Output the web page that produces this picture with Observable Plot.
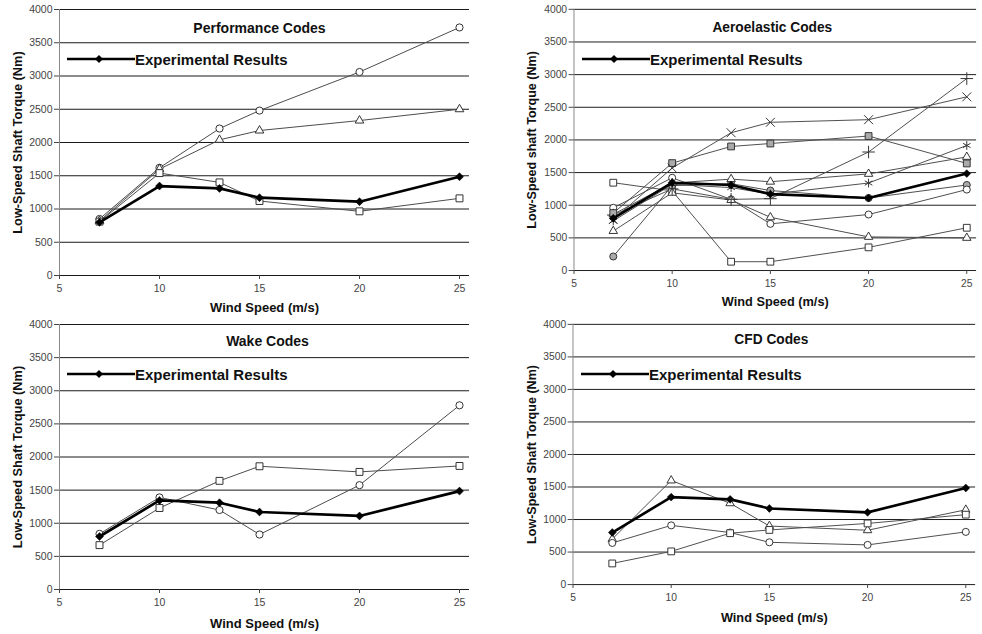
<!DOCTYPE html>
<html><head><meta charset="utf-8">
<script src="https://cdn.jsdelivr.net/npm/d3@7"></script>
<script src="https://cdn.jsdelivr.net/npm/@observablehq/plot@0.6"></script>
<style>
body{margin:0;background:#fff;overflow:hidden;font-family:"Liberation Sans",Arial,sans-serif;}
#wrap{position:relative;width:982px;height:634px;overflow:hidden;background:#fff;}
.panel{position:absolute;}
.legend{position:absolute;display:flex;align-items:center;height:20px;font:bold 15px "Liberation Sans",Arial,sans-serif;color:#111;white-space:nowrap;}
.legend svg{display:block;}
</style></head><body><div id="wrap"></div>
<script>
// ---- data ----
const windSpeed = [7, 10, 13, 15, 20, 25];
const experimental = [800, 1345, 1310, 1170, 1110, 1485];
const legendLabel = "Experimental Results";
const xTitle = "Wind Speed (m/s)";
const yTitles = ["Low-Speed Shaft Torque (Nm)", "Low-Speed shaft Torque (Nm)", "Low-Speed Shaft Torque (Nm)", "Low-Speed Shaft Torque (Nm)"];
const panelTitles = ["Performance Codes", "Aeroelastic Codes", "Wake Codes", "CFD Codes"];
const yTicks = [0, 500, 1000, 1500, 2000, 2500, 3000, 3500, 4000];
const xTicks = [5, 10, 15, 20, 25];

// Performance codes
const perfCircle = [850, 1620, 2210, 2480, 3060, 3730];
const perfTriangle = [820, 1600, 2040, 2180, 2330, 2500];
const perfSquare = [810, 1540, 1400, 1120, 965, 1160];
// Aeroelastic codes
const aeroTimes = [780, 1570, 2110, 2270, 2310, 2660];
const aeroGraySquare = [880, 1645, 1900, 1945, 2060, 1640];
const aeroPlus = [850, 1250, 1090, 1100, 1815, 2940];
const aeroAsterisk = [760, 1320, 1270, 1170, 1340, 1915];
const aeroTriangleA = [860, 1340, 1400, 1360, 1480, 1740];
const aeroTriangleB = [605, 1190, 1080, 815, 515, 500];
const aeroCircle = [960, 1420, 1090, 715, 858, 1240];
const aeroGrayCircle = [215, 1300, 1330, 1225, 1110, 1310];
const aeroSquare = [1345, 1220, 135, 135, 355, 655];
// Wake codes
const wakeCircle = [840, 1390, 1200, 830, 1575, 2780];
const wakeSquare = [670, 1230, 1640, 1860, 1775, 1865];
// CFD codes
const cfdTriangle = [700, 1600, 1250, 900, 835, 1150];
const cfdCircle = [640, 910, 800, 650, 610, 810];
const cfdSquare = [325, 510, 790, 840, 940, 1075];

// ---- layout ----
const panels = [
  {title: panelTitles[0], yTitle: yTitles[0], left: 0, top: 0, width: 491, ml: 59, mr: 22, mt: 9, mb: 42, tdx: -5, tdy: 19, xdy: 32, ydx: -42,
   legend: {left: 67, top: 49},
   series: [
     {values: perfCircle, symbol: "circle", fill: "white"},
     {values: perfTriangle, symbol: "triangle", fill: "white"},
     {values: perfSquare, symbol: "square", fill: "white"}]},
  {title: panelTitles[1], yTitle: yTitles[1], left: 491, top: 0, width: 500, ml: 84, mr: 6, mt: 9, mb: 42, tdx: -3, tdy: 19, xdy: 32, ydx: -43,
   legend: {left: 582, top: 49},
   series: [
     {values: aeroSquare, symbol: "square", fill: "white"},
     {values: aeroGrayCircle, symbol: "circle", fill: "#aaa"},
     {values: aeroCircle, symbol: "circle", fill: "white"},
     {values: aeroTriangleB, symbol: "triangle", fill: "white"},
     {values: aeroTriangleA, symbol: "triangle", fill: "white"},
     {values: aeroAsterisk, symbol: "asterisk", fill: "none"},
     {values: aeroPlus, symbol: "plus", fill: "none"},
     {values: aeroGraySquare, symbol: "square", fill: "#aaa"},
     {values: aeroTimes, symbol: "times", fill: "none"}]},
  {title: panelTitles[2], yTitle: yTitles[2], left: 0, top: 317, width: 491, ml: 59, mr: 22, mt: 7, mb: 45, tdx: 3, tdy: 17, xdy: 34, ydx: -42,
   legend: {left: 67, top: 364},
   series: [
     {values: wakeCircle, symbol: "circle", fill: "white"},
     {values: wakeSquare, symbol: "square", fill: "white"}]},
  {title: panelTitles[3], yTitle: yTitles[3], left: 491, top: 317, width: 500, ml: 83, mr: 7, mt: 7, mb: 45, tdx: -3, tdy: 15, xdy: 34, ydx: -42,
   legend: {left: 581, top: 364},
   series: [
     {values: cfdTriangle, symbol: "triangle", fill: "white"},
     {values: cfdCircle, symbol: "circle", fill: "white"},
     {values: cfdSquare, symbol: "square", fill: "white"}]}
];

const wrap = document.getElementById("wrap");
const FONT = "Liberation Sans, Arial, Helvetica, sans-serif";
const symbolR = {circle: 3.6, square: 3.9, triangle: 3.2, plus: 4.2, times: 4.2, asterisk: 4.2};

for (const p of panels) {
  const exp = windSpeed.map((x, i) => ({x, y: experimental[i]}));
  const marks = [
    Plot.gridY(yTicks, {stroke: "#1a1a1a", strokeOpacity: 1, strokeWidth: 1}),
    Plot.ruleX([5], {y1: 0, y2: 4000, stroke: "#888", strokeWidth: 1}),
    Plot.axisY({ticks: yTicks, tickSize: 5, tickPadding: 2, fontSize: 10.5, color: "#444", label: null, tickFormat: d => String(d)}),
    Plot.axisX({ticks: xTicks, tickSize: 4, tickPadding: 5, fontSize: 10.5, color: "#444", label: null, tickFormat: d => String(d)})
  ];
  for (const s of p.series) {
    const pts = windSpeed.map((x, i) => ({x, y: s.values[i]}));
    marks.push(Plot.line(pts, {x: "x", y: "y", stroke: "#4d4d4d", strokeWidth: 1}));
  }
  for (const s of p.series) {
    const pts = windSpeed.map((x, i) => ({x, y: s.values[i]}));
    marks.push(Plot.dot(pts, {x: "x", y: "y", symbol: s.symbol, r: symbolR[s.symbol], fill: s.fill, stroke: "#333", strokeWidth: 1}));
  }
  marks.push(
    Plot.line(exp, {x: "x", y: "y", stroke: "#000", strokeWidth: 2.7}),
    Plot.dot(exp, {x: "x", y: "y", symbol: "diamond2", r: 3.6, fill: "#000", stroke: "#000", strokeWidth: 0.5}),
    Plot.text([p.title], {text: d => d, frameAnchor: "top", dx: p.tdx, dy: p.tdy, textAnchor: "middle", lineAnchor: "middle", fontSize: 14, fontWeight: "bold", fill: "#111"}),
    Plot.text([xTitle], {text: d => d, frameAnchor: "bottom", dy: p.xdy, textAnchor: "middle", lineAnchor: "middle", fontSize: 13, fontWeight: "bold", fill: "#111"}),
    Plot.text([p.yTitle], {text: d => d, frameAnchor: "left", dx: p.ydx, rotate: -90, textAnchor: "middle", lineAnchor: "middle", fontSize: 12.8, fontWeight: "bold", fill: "#111"})
  );
  const chart = Plot.plot({
    width: p.width, height: 317,
    marginLeft: p.ml, marginRight: p.mr, marginTop: p.mt, marginBottom: p.mb,
    style: {fontFamily: FONT, background: "transparent", overflow: "visible"},
    x: {domain: [5, 25.5]},
    y: {domain: [0, 4000]},
    marks
  });
  const div = document.createElement("div");
  div.className = "panel";
  div.style.left = p.left + "px";
  div.style.top = p.top + "px";
  div.appendChild(chart);
  wrap.appendChild(div);

  // legend (inside plot area, upper-left)
  const lg = document.createElement("div");
  lg.className = "legend";
  lg.style.left = p.legend.left + "px";
  lg.style.top = p.legend.top + "px";
  lg.innerHTML = `<svg width="68" height="20"><line x1="0" x2="68" y1="10" y2="10" stroke="#000" stroke-width="2.7"/><path d="M32,6L36,10L32,14L28,10Z" fill="#000"/></svg><span>${legendLabel}</span>`;
  wrap.appendChild(lg);
}
</script></body></html>
